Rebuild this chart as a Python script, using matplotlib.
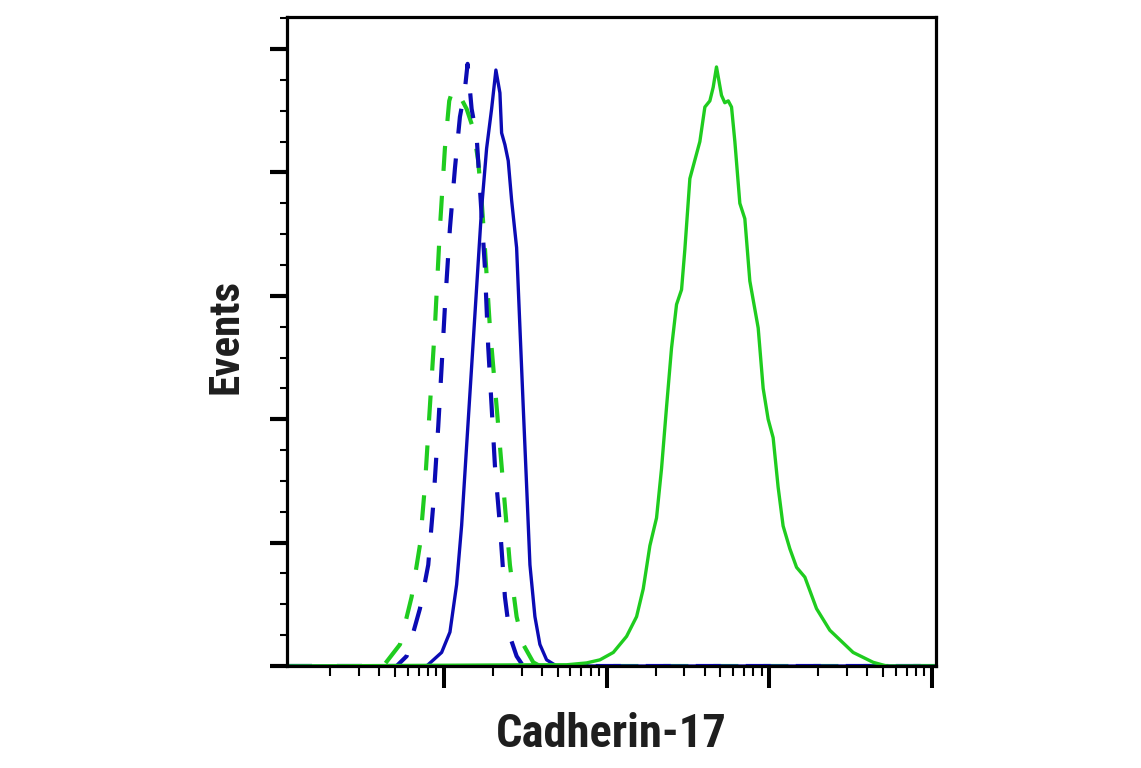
import numpy as np
import matplotlib
matplotlib.use("Agg")
from matplotlib import pyplot as plt
from matplotlib import font_manager as fm
from matplotlib.ticker import FixedLocator, NullFormatter

# fluorescence intensity (x) and events (% of max) for each histogram
green_solid_x = [3890, 5680, 7530, 9100, 11000, 13270, 15290, 16800, 18460, 20280,
                 21770, 23370, 25070, 26920, 28900, 30280, 32510, 34890, 37450, 40200,
                 43150, 45220, 47390, 50870, 53300, 55980, 58640, 61470, 65950, 70790,
                 75980, 85510, 91760, 98470, 105700, 113400, 121700, 133900, 147200,
                 165600, 195300, 235700, 327900, 435400, 526500]
green_solid_y = [0.2, 0.2, 0.5, 1.0, 2.2, 4.8, 8.0, 12.5, 19.5, 24.0,
                 32.0, 42.0, 51.5, 58.6, 61.0, 67.5, 79.0, 82.0, 85.0, 90.6,
                 91.6, 93.8, 97.1, 92.5, 91.3, 91.6, 90.6, 85.0, 75.0, 72.5,
                 62.4, 54.8, 45.0, 40.0, 37.0, 29.0, 22.7, 19.0, 16.0,
                 14.4, 9.3, 5.8, 2.2, 0.6, 0.0]

blue_solid_x = [783, 968, 1089, 1197, 1285, 1379, 1480, 1589, 1705, 1830, 1964, 2087,
                2209, 2263, 2371, 2485, 2607, 2798, 2932, 3072, 3224, 3379, 3626,
                3890, 4278, 4928]
blue_solid_y = [0.0, 2.2, 5.5, 13.2, 22.8, 35.7, 48.5, 61.4, 74.2, 83.9, 90.3, 96.6,
                92.9, 86.4, 84.5, 81.9, 75.5, 67.8, 54.9, 42.1, 29.2, 16.4, 8.0,
                3.5, 1.0, 0.0]

blue_dash_x = [512, 590, 712, 801, 859, 923, 968, 1014, 1089, 1169, 1254, 1346, 1398,
               1480, 1589, 1665, 1786, 1872, 1964, 2058, 2209, 2371, 2545, 2798, 3072]
blue_dash_y = [0.0, 1.6, 9.3, 16.4, 26.0, 38.9, 48.5, 58.2, 71.0, 80.7, 89.0, 93.5, 97.6,
               90.3, 85.8, 77.4, 64.6, 51.7, 42.1, 32.5, 22.8, 11.2, 4.8, 1.6, 0.0]

green_dash_x = [424, 537, 633, 712, 764, 820, 880, 945, 1014, 1078, 1141, 1224, 1379,
                1514, 1624, 1705, 1786, 1917, 2058, 2209, 2371, 2545, 2798, 3072,
                3540, 3890]
green_dash_y = [0.0, 3.5, 11.2, 19.6, 29.2, 42.1, 54.9, 71.0, 83.9, 91.6, 93.7, 92.9, 90.3,
                87.1, 81.9, 75.5, 67.8, 54.9, 45.3, 35.7, 26.0, 16.4, 8.0, 3.5,
                0.6, 0.0]

x_min, x_max = 10 ** 2.035, 10 ** 6.025
y_min, y_max = 0, 105.2

GREEN = "#1fcc1f"
BLUE = "#0b0bb4"


def pad(xs, ys):
    # histogram sits on the baseline across the whole axis
    return [x_min] + list(xs) + [x_max], [0] + list(ys) + [0]


def pick_narrow_font():
    # look for a narrow bold sans, the reference uses a condensed face
    names = {f.name for f in fm.fontManager.ttflist}
    for n in ["Liberation Sans Narrow", "Roboto Condensed", "Open Sans Condensed",
              "DejaVu Sans Condensed", "Arial Narrow"]:
        if n in names:
            return [n, "DejaVu Sans"], "normal"
    for f in fm.fontManager.ttflist:
        if f.name == "DejaVu Sans" and f.stretch == "condensed":
            return ["DejaVu Sans"], "condensed"
    return ["DejaVu Sans"], "normal"


fig = plt.figure(figsize=(11.41, 7.68), dpi=100)
ax = fig.add_axes([0.2515, 0.1328, 0.5688, 0.8451])

lw_solid = 2.4
lw_dash = 3.0
x, y = pad(green_dash_x, green_dash_y)
ax.plot(x, y, color=GREEN, lw=lw_dash, dashes=(6, 6))
x, y = pad(blue_dash_x, blue_dash_y)
ax.plot(x, y, color=BLUE, lw=lw_dash, dashes=(6, 6))
x, y = pad(blue_solid_x, blue_solid_y)
ax.plot(x, y, color=BLUE, lw=lw_solid)
x, y = pad(green_solid_x, green_solid_y)
ax.plot(x, y, color=GREEN, lw=lw_solid)

ax.set_xscale("log")
ax.set_xlim(x_min, x_max)
ax.set_ylim(y_min, y_max)

majors_x = [1e3, 1e4, 1e5, 1e6]
fives_x = [5e2, 5e3, 5e4, 5e5]
minors_x = [m * 10 ** k for k in range(2, 6) for m in (2, 3, 4, 6, 7, 8, 9)]
minors_x = [v for v in minors_x if x_min <= v <= x_max]

ax.xaxis.set_major_locator(FixedLocator(majors_x))
ax.xaxis.set_minor_locator(FixedLocator(minors_x))
ax.xaxis.set_major_formatter(NullFormatter())
ax.xaxis.set_minor_formatter(NullFormatter())
ax.tick_params(axis="x", which="major", length=16, width=2.9, direction="out")
ax.tick_params(axis="x", which="minor", length=7, width=1.5, direction="out")
# the "5" ticks are a little longer
for v in fives_x:
    if x_min <= v <= x_max:
        ax.plot([v, v], [0, -0.017], transform=ax.get_xaxis_transform(),
                color="black", lw=1.5, clip_on=False, solid_capstyle="butt")

ax.yaxis.set_major_locator(FixedLocator([0, 20, 40, 60, 80, 100]))
ax.yaxis.set_minor_locator(FixedLocator([v for v in range(5, 106, 5) if v % 20]))
ax.yaxis.set_major_formatter(NullFormatter())
ax.tick_params(axis="y", which="major", length=12, width=3, direction="out")
ax.tick_params(axis="y", which="minor", length=5, width=1.5, direction="out")

for s in ax.spines.values():
    s.set_linewidth(2.3)

label_font, label_stretch = pick_narrow_font()
fig.text(611 / 1141, 1 - 747 / 768, "Cadherin-17", ha="center", va="baseline",
         fontsize=33.5, fontweight="bold", family=label_font, fontstretch=label_stretch,
         color="#1e1e1e")
fig.text(238 / 1141, 1 - 337 / 768, "Events", rotation=90, rotation_mode="anchor",
         ha="center", va="baseline", fontsize=31, fontweight="bold",
         family=label_font, fontstretch=label_stretch, color="#1e1e1e")

fig.savefig("out.png", dpi=100)
